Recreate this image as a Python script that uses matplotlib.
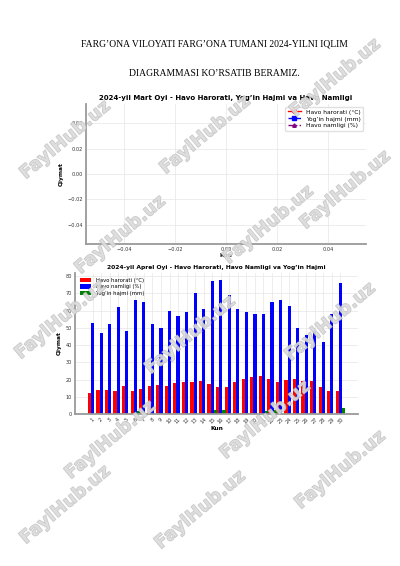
import matplotlib
matplotlib.use("Agg")
import matplotlib.pyplot as plt
import matplotlib.patheffects as pe
import numpy as np

# ---------------- data ----------------
doc_title_1 = "FARG\u2019ONA VILOYATI FARG\u2019ONA TUMANI 2024-YILNI IQLIM"
doc_title_2 = "DIAGRAMMASI KO\u2019RSATIB BERAMIZ."

mart_title = "2024-yil Mart Oyi - Havo Harorati, Yog\u2019in Hajmi va Havo Namligi"
mart_series = ["Havo harorati (\u00b0C)", "Yog\u2019in hajmi (mm)", "Havo namligi (%)"]
mart_values = [[], [], []]  # empty chart in reference

aprel_title = "2024-yil Aprel Oyi - Havo Harorati, Havo Namligi va Yog\u2019in Hajmi"
aprel_days = [str(d) for d in range(1, 31)]
aprel_temp = [12.2, 13.7, 13.9, 13.4, 16.0, 13.5, 14.3, 16.5, 17.0, 16.5,
              18.0, 18.8, 18.3, 19.3, 17.2, 15.8, 15.9, 18.3, 20.6, 21.7,
              22.2, 20.5, 18.6, 20.0, 20.5, 19.0, 19.0, 15.9, 13.6, 13.6]
aprel_hum = [53, 47, 52, 62, 48, 66, 65, 52, 50, 60,
             57, 59, 70, 61, 77, 78, 69, 61, 59, 58,
             58, 65, 66, 63, 50, 46, 48, 42, 58, 76]
aprel_rain = [0, 0, 0, 0, 0, 2.0, 0, 0, 0, 0,
              0, 0, 0, 0, 2.5, 2.2, 0, 0, 0, 0,
              1.5, 2.1, 0, 0, 0, 0, 0, 0, 0, 3.2]
aprel_labels = ["Havo harorati (\u00b0C)", "Havo namligi (%)", "Yog\u2019in hajmi (mm)"]

watermark = "FaylHub.uz"

# ---------------- figure ----------------
W, H = 400, 566
fig = plt.figure(figsize=(W / 100, H / 100), dpi=100)
fig.patch.set_facecolor("white")

serif = ["Liberation Serif", "DejaVu Serif"]
fig.text(214 / W, 1 - 44 / H, doc_title_1, ha="center", va="center",
         fontsize=6.9, family=serif)
fig.text(214 / W, 1 - 73 / H, doc_title_2, ha="center", va="center",
         fontsize=6.9, family=serif)


def px_axes(l, t, r, b):
    return fig.add_axes([l / W, 1 - b / H, (r - l) / W, (b - t) / H])


def style(ax):
    for s in ("top", "right"):
        ax.spines[s].set_visible(False)
    for s in ("left", "bottom"):
        ax.spines[s].set_color("#9a9a9a")
        ax.spines[s].set_linewidth(1.3)
    ax.grid(True, color="#e6e6e6", linewidth=0.5)
    ax.set_axisbelow(True)
    ax.tick_params(length=0, labelsize=3.6, pad=2, colors="#333333")


# ---- chart 1 (Mart) ----
ax1 = px_axes(86, 104, 366, 244)
style(ax1)
ax1.plot(mart_values[0], color="red", marker="o", linestyle="-", markersize=2.5,
         linewidth=1, label=mart_series[0])
ax1.plot(mart_values[1], color="blue", marker="s", linestyle="--", markersize=2.5,
         linewidth=1, label=mart_series[1])
ax1.plot(mart_values[2], color="purple", marker="^", linestyle="-.", markersize=2.5,
         linewidth=1, label=mart_series[2])
ax1.set_xlim(-0.055, 0.055)
ax1.set_ylim(-0.055, 0.055)
ax1.set_xticks([-0.04, -0.02, 0.0, 0.02, 0.04])
ax1.set_yticks([-0.04, -0.02, 0.0, 0.02, 0.04])
ax1.set_xticklabels(["\u22120.04", "\u22120.02", "0.00", "0.02", "0.04"])
ax1.set_yticklabels(["\u22120.04", "\u22120.02", "0.00", "0.02", "0.04"])
ax1.set_title(mart_title, fontsize=5.0, fontweight="bold", pad=3)
ax1.set_xlabel("Kun", fontsize=4.2, fontweight="bold", labelpad=1)
ax1.set_ylabel("Qiymat", fontsize=4.2, fontweight="bold", labelpad=3)
ax1.legend(loc="upper right", fontsize=4.3, frameon=True, framealpha=0.9,
           edgecolor="#dddddd", handlelength=2.2, borderpad=0.4, labelspacing=0.3)

# ---- chart 2 (Aprel) ----
ax2 = px_axes(75, 273, 358, 414)
style(ax2)
x = np.arange(len(aprel_days))
w = 0.37
ax2.bar(x - w, aprel_temp, width=w, color="red", label=aprel_labels[0])
ax2.bar(x, aprel_hum, width=w, color="blue", label=aprel_labels[1])
ax2.bar(x + w, aprel_rain, width=w, color="green", label=aprel_labels[2])
ax2.set_xticks(x)
ax2.set_xticklabels(aprel_days, rotation=45)
ax2.set_yticks(np.arange(0, 81, 10))
ax2.set_title(aprel_title, fontsize=4.35, fontweight="bold", pad=3)
ax2.set_xlabel("Kun", fontsize=4.2, fontweight="bold", labelpad=1)
ax2.set_ylabel("Qiymat", fontsize=4.2, fontweight="bold", labelpad=3)
ax2.legend(loc="upper left", fontsize=3.8, frameon=False,
           handlelength=2.2, handleheight=0.8, labelspacing=0.3)

# ---- watermark ----
wm_pos = [(335, 78), (205, 135), (65, 140), (345, 190), (120, 235), (268, 225),
          (60, 320), (190, 335), (330, 322), (265, 420), (110, 440), (340, 470),
          (200, 510), (65, 505)]
for (px, py) in wm_pos:
    fig.text(px / W, 1 - py / H, watermark, rotation=40, ha="center", va="center",
             fontsize=13, fontweight="bold", color="#dcdcdc", alpha=0.7,
             family="DejaVu Sans", zorder=10,
             path_effects=[pe.withStroke(linewidth=0.8, foreground="#b4b4b4")])

fig.savefig("out.png", dpi=100, facecolor="white")
